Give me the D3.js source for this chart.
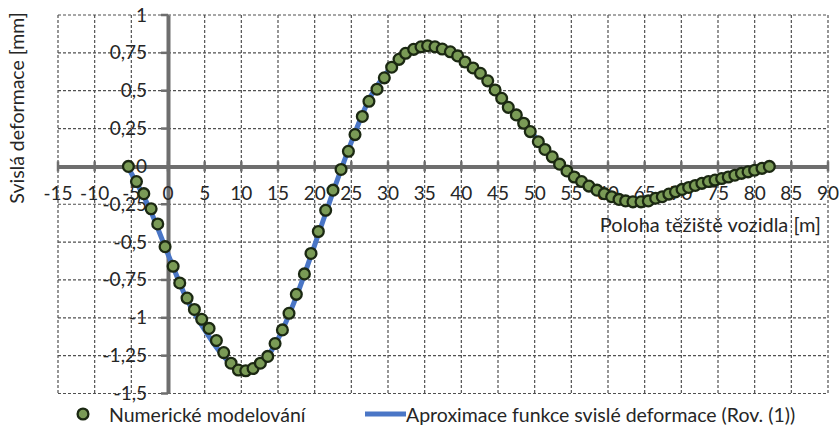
<!DOCTYPE html>
<html>
<head>
<meta charset="utf-8">
<script src="https://cdn.jsdelivr.net/npm/d3@7/dist/d3.min.js"></script>
<style>
  html, body { margin: 0; padding: 0; background: #ffffff; }
  svg { display: block; }
  text { font-family: Lato, "Open Sans", "DejaVu Sans", sans-serif; fill: #262626; }
</style>
</head>
<body>
<svg id="chart" width="839" height="433"></svg>
<script>
// Numerical model: vehicle position [m] and vertical deflection [mm]
const numX = [
  -5.4, -4.3, -3.3, -2.3, -1.4, -0.4, 0.7, 1.6, 2.6, 3.6, 4.6, 5.6, 6.6, 7.6, 8.6, 9.6, 10.6,
  11.6, 12.6, 13.6, 14.6, 15.6, 16.5, 17.5, 18.6, 19.5, 20.5, 21.5, 22.5, 23.6, 24.6,
  25.5, 26.5, 27.4, 28.5, 29.5, 30.5, 31.5, 32.4, 33.5, 34.5, 35.4, 36.4, 37.4, 38.5, 39.5,
  40.5, 41.6, 42.6, 43.6, 44.6, 45.5,
  46.4, 47.5, 48.5, 49.4, 50.5, 51.4, 52.4, 53.4, 54.4, 55.4, 56.4, 57.4, 58.5, 59.5,
  60.5, 61.5, 62.4, 63.4, 64.5, 65.5,
  66.5, 67.4, 68.3, 69.2, 70.1, 71.0, 71.9, 72.8, 73.7, 74.6, 75.5, 76.4, 77.3, 78.2,
  79.1, 80.0, 81.0, 82.0
];
const numY = [
  0.0, -0.10, -0.18, -0.28, -0.38, -0.53, -0.66, -0.77, -0.87, -0.945, -1.01, -1.07, -1.15, -1.23, -1.30, -1.345, -1.35,
  -1.335, -1.30, -1.255, -1.17, -1.08, -0.97, -0.845, -0.71, -0.575, -0.43, -0.29, -0.157, -0.02, 0.10,
  0.21, 0.33, 0.43, 0.51, 0.585, 0.655, 0.707, 0.747, 0.773, 0.79, 0.797, 0.79, 0.775, 0.757, 0.73,
  0.69, 0.65, 0.615, 0.565, 0.505, 0.45,
  0.39, 0.34, 0.285, 0.23, 0.163, 0.112, 0.063, 0.015, -0.03, -0.07, -0.10, -0.13, -0.157, -0.18,
  -0.20, -0.218, -0.228, -0.234, -0.234, -0.228,
  -0.21, -0.20, -0.183, -0.168, -0.152, -0.139, -0.126, -0.112, -0.10, -0.09, -0.08, -0.07, -0.058, -0.046,
  -0.036, -0.025, -0.013, 0.0
];

// Approximating function of the vertical deflection (Eq. (1))
const fitX = [-5.4, -2.5, 0, 2.5, 5, 7.5, 10, 12.5, 15, 17.5, 20, 22.5, 25, 27.5, 30, 32.5, 35, 37.5,
  40, 42.5, 45, 47.5, 50, 52.5, 55, 57.5, 60, 62.5, 65, 67.5, 70, 72.5, 75, 77.5, 80, 82];
const fitY = [-0.01, -0.28, -0.58, -0.87, -1.08, -1.25, -1.34, -1.31, -1.14, -0.86, -0.52, -0.17, 0.16, 0.45, 0.63, 0.75, 0.795, 0.775,
  0.71, 0.62, 0.48, 0.34, 0.20, 0.06, -0.05, -0.13, -0.19, -0.225, -0.228, -0.20, -0.155, -0.115, -0.085, -0.055, -0.025, 0.0];

// Axis ticks and labels
const xTicks = d3.range(-15, 91, 5);
const yTicks = [1, 0.75, 0.5, 0.25, 0, -0.25, -0.5, -0.75, -1, -1.25, -1.5];
const fmt = v => String(v).replace(".", ",");

const seriesNames = ["Numerické modelování", "Aproximace funkce svislé deformace (Rov. (1))"];
const xTitle = "Poloha těžiště vozidla [m]";
const yTitle = "Svislá deformace [mm]";

const svg = d3.select("#chart");
const x = d3.scaleLinear().domain([-15, 90]).range([58, 828]);
const y = d3.scaleLinear().domain([-1.5, 1]).range([393.5, 15]);

// dashed grid
const grid = svg.append("g").attr("stroke", "#505050").attr("stroke-width", 1.2)
  .attr("stroke-dasharray", "3,2");
grid.selectAll("line.v").data(xTicks).join("line").attr("class", "v")
  .attr("x1", d => x(d)).attr("x2", d => x(d)).attr("y1", y(1)).attr("y2", y(-1.5));
grid.selectAll("line.h").data(yTicks).join("line").attr("class", "h")
  .attr("x1", x(-15)).attr("x2", x(90)).attr("y1", d => y(d)).attr("y2", d => y(d));

// axes crossing at the origin
const axisColor = "#6e6e6e";
const xAxis = d3.axisBottom(x).tickValues(xTicks).tickSize(0).tickFormat("");
const yAxis = d3.axisLeft(y).tickValues(yTicks).tickSize(0).tickFormat("");
const gx = svg.append("g").attr("transform", `translate(0,${y(0)})`).call(xAxis);
gx.select(".domain").attr("stroke", axisColor).attr("stroke-width", 4);
const gy = svg.append("g").attr("transform", `translate(${x(0)},0)`).call(yAxis);
gy.select(".domain").attr("stroke", axisColor).attr("stroke-width", 4);

// tick marks
svg.append("g").selectAll("line").data(xTicks).join("line")
  .attr("x1", d => x(d)).attr("x2", d => x(d))
  .attr("y1", y(0) - 5).attr("y2", y(0) + 5)
  .attr("stroke", axisColor).attr("stroke-width", 2.5);
svg.append("g").selectAll("line").data(yTicks).join("line")
  .attr("x1", x(0) - 7).attr("x2", x(0))
  .attr("y1", d => y(d)).attr("y2", d => y(d))
  .attr("stroke", axisColor).attr("stroke-width", 2.5);

// tick labels
svg.append("g").selectAll("text").data(xTicks).join("text")
  .attr("x", d => x(d)).attr("y", y(0) + 34)
  .attr("text-anchor", "middle").attr("font-size", 19)
  .text(d => d);
svg.append("g").selectAll("text").data(yTicks).join("text")
  .attr("x", 147).attr("y", d => y(d) + 6.5)
  .attr("text-anchor", "end").attr("font-size", 19)
  .text(fmt);

// axis titles
svg.append("text").attr("x", 821).attr("y", 232).attr("text-anchor", "end")
  .attr("font-size", 20).text(xTitle);
svg.append("text").attr("transform", "translate(24,108) rotate(-90)")
  .attr("text-anchor", "middle").attr("font-size", 19.5).text(yTitle);

// approximation curve
const fitData = fitX.map((v, i) => [v, fitY[i]]);
const lineColor = "#4a76c6";
svg.append("path").datum(fitData)
  .attr("fill", "none").attr("stroke", lineColor).attr("stroke-width", 5)
  .attr("d", d3.line().x(d => x(d[0])).y(d => y(d[1])).curve(d3.curveMonotoneX));

// numerical points
const numData = numX.map((v, i) => [v, numY[i]]);
const markFill = "#7a9b56", markStroke = "#1b2812";
svg.append("g").selectAll("circle").data(numData).join("circle")
  .attr("cx", d => x(d[0])).attr("cy", d => y(d[1])).attr("r", 5.4)
  .attr("fill", markFill).attr("stroke", markStroke).attr("stroke-width", 2.3);

// legend
const lg = svg.append("g");
lg.append("circle").attr("cx", 83).attr("cy", 414).attr("r", 5.4)
  .attr("fill", markFill).attr("stroke", markStroke).attr("stroke-width", 2.3);
lg.append("text").attr("x", 109).attr("y", 421.5).attr("font-size", 19.5).text(seriesNames[0]);
lg.append("line").attr("x1", 365).attr("x2", 406).attr("y1", 414).attr("y2", 414)
  .attr("stroke", lineColor).attr("stroke-width", 5);
lg.append("text").attr("x", 406).attr("y", 421.5).attr("font-size", 19.5).text(seriesNames[1]);
</script>
</body>
</html>
